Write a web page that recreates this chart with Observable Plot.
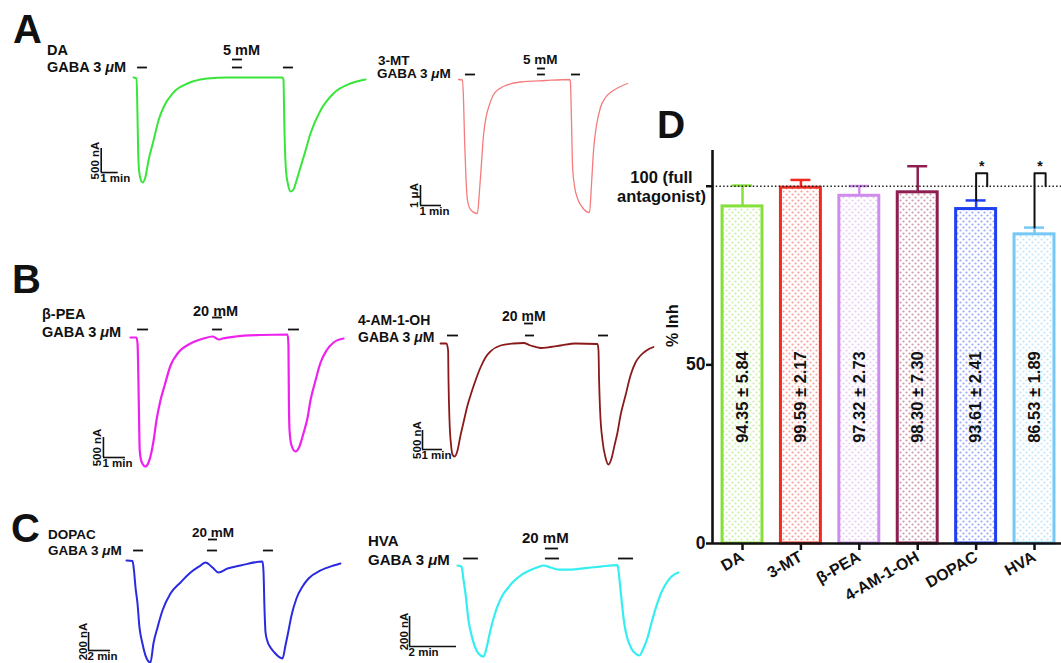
<!DOCTYPE html>
<html><head><meta charset="utf-8">
<script src="https://cdn.jsdelivr.net/npm/d3@7"></script>
<script src="https://cdn.jsdelivr.net/npm/@observablehq/plot@0.6"></script>
<style>
html,body{margin:0;padding:0;background:#fff;overflow:hidden;}
#fig{position:relative;width:1061px;height:663px;font-family:"Liberation Sans",Arial,Helvetica,sans-serif;color:#111;overflow:hidden;}
.lbl{position:absolute;font-weight:bold;line-height:1;white-space:nowrap;}
.big{position:absolute;font-weight:bold;line-height:1;}
.panel{position:absolute;}
</style></head><body><div id="fig"></div>
<script>
const FONT = '"Liberation Sans", Arial, Helvetica, sans-serif';

// ---------- Panels A–C: two-electrode voltage-clamp traces [time (min), current (nA)] ----------
const daTrace = [[0,0],[0.18,-21],[0.24,-896],[0.29,-1729],[0.38,-2062],[0.53,-2187],[0.71,-2062],[0.88,-1729],[1.18,-1312],[1.47,-896],[1.76,-625],[2.35,-312],[3.18,-125],[4.35,-21],[5.53,0],[8.76,0],[8.82,-42],[8.88,-1104],[8.97,-1937],[9.09,-2229],[9.24,-2375],[9.41,-2333],[9.59,-2146],[9.82,-1875],[10.12,-1521],[10.41,-1167],[11.0,-687],[11.76,-333],[12.76,-125],[13.65,-42]];
const mt3Trace = [[0,0],[0.19,-25],[0.24,-1050],[0.29,-3050],[0.36,-5050],[0.43,-6050],[0.57,-6500],[0.90,-6700],[1.0,-5550],[1.07,-4550],[1.19,-2800],[1.33,-1800],[1.48,-1250],[1.67,-750],[2.14,-350],[2.95,-125],[4.14,-50],[5.29,0],[5.33,-150],[5.38,-2050],[5.43,-4300],[5.52,-5300],[5.67,-5950],[5.90,-6400],[6.24,-6650],[6.33,-5300],[6.43,-3550],[6.57,-2300],[6.76,-1400],[7.0,-900],[7.24,-650],[7.62,-400],[8.05,-200]];
const peaTrace = [[0,0],[0.27,0],[0.32,-150],[0.36,-1075],[0.39,-2075],[0.42,-2825],[0.5,-3100],[0.68,-3225],[0.82,-3125],[0.95,-2875],[1.05,-2575],[1.18,-2075],[1.36,-1575],[1.55,-1200],[1.82,-700],[2.14,-400],[2.73,-150],[3.32,-25],[3.73,25],[3.91,-25],[4.0,-50],[4.18,-25],[4.77,25],[5.91,62],[7.14,75],[7.18,-200],[7.2,-1575],[7.23,-2325],[7.32,-2700],[7.5,-2850],[7.68,-2725],[7.86,-2400],[8.05,-2000],[8.18,-1575],[8.41,-1075],[8.64,-625],[8.91,-325],[9.23,-125],[9.68,-25]];
const am4Trace = [[0,0],[0.3,0],[0.38,-184],[0.4,-974],[0.45,-2026],[0.53,-2684],[0.6,-2921],[0.7,-2974],[0.85,-2816],[1.0,-2421],[1.15,-2079],[1.35,-1632],[1.5,-1368],[1.75,-974],[2.0,-632],[2.25,-368],[2.5,-210],[3.0,-53],[3.65,0],[4.15,13],[4.5,-53],[5.0,-118],[5.5,-92],[6.0,-53],[6.75,0],[7.85,-13],[7.9,-184],[7.93,-974],[7.98,-1763],[8.1,-2553],[8.25,-3000],[8.4,-3184],[8.55,-3026],[8.7,-2684],[8.85,-2342],[9.0,-1895],[9.25,-1368],[9.5,-842],[9.75,-500],[10.0,-316],[10.3,-184],[10.65,-92]];
const dopacTrace = [[0,0],[0.55,-6],[0.68,-111],[0.82,-300],[1.0,-478],[1.18,-744],[1.45,-922],[1.73,-1056],[2.18,-1133],[2.45,-922],[2.82,-744],[3.27,-556],[4.0,-367],[4.91,-244],[5.82,-133],[6.73,-56],[7.18,-22],[7.82,-78],[8.36,-133],[9.18,-89],[10.36,-56],[12.36,-11],[12.45,-111],[12.55,-556],[12.64,-800],[12.82,-900],[13.09,-967],[13.45,-1022],[13.82,-1067],[14.18,-1089],[14.45,-944],[14.73,-778],[15.0,-611],[15.45,-422],[16.0,-289],[16.55,-200],[17.64,-111],[18.82,-56],[19.45,-33]];
const hvaTrace = [[0,0],[0.17,-7],[0.26,-100],[0.34,-187],[0.47,-367],[0.6,-467],[0.72,-533],[0.89,-587],[1.11,-607],[1.23,-553],[1.4,-433],[1.57,-333],[1.7,-273],[1.91,-200],[2.13,-153],[2.38,-107],[2.68,-67],[2.98,-40],[3.32,-17],[3.66,0],[3.96,-13],[4.3,-27],[4.81,-27],[5.45,-17],[6.09,-7],[6.81,3],[6.85,-33],[6.94,-167],[7.02,-287],[7.11,-400],[7.23,-487],[7.4,-553],[7.57,-587],[7.74,-600],[7.91,-553],[8.09,-480],[8.26,-380],[8.43,-287],[8.64,-193],[8.85,-127],[9.11,-73],[9.4,-47]];

// application bars [start, end] (min)
const daGaba = [[0.24,0.82],[5.82,6.41],[8.82,9.41]],   daDrug = [[5.82,6.41]];
const mt3Gaba = [[0.33,0.81],[3.76,4.14],[5.38,5.81]], mt3Drug = [[3.76,4.14]];
const peaGaba = [[0.32,0.82],[3.73,4.18],[7.18,7.68]], peaDrug = [[3.73,4.18]];
const am4Gaba = [[0.35,0.9],[4.25,4.7],[7.9,8.4]],     am4Drug = [[4.2,4.65]];
const dopacGaba = [[0.64,1.55],[7.36,8.27],[12.45,13.36]], dopacDrug = [[7.45,8.27]];
const hvaGaba = [[0.26,0.89],[3.74,4.34],[6.85,7.49]],  hvaDrug = [[3.74,4.3]];

const traceNames  = ["DA","3-MT","β-PEA","4-AM-1-OH","DOPAC","HVA"];
const drugConc    = ["5 mM","5 mM","20 mM","20 mM","20 mM","20 mM"];
const traceColors = ["#38e63a","#f47c7c","#ee22ee","#8a1a1a","#2a2ae0","#36eef0"];
const scaleMin    = [1,1,1,1,2,2];          // scale bar time (min)
const scaleCurrent= [500,1000,500,500,200,200]; // scale bar current (nA)

// ---------- Panel D ----------
const compounds = ["DA","3-MT","β-PEA","4-AM-1-OH","DOPAC","HVA"];
const inhMean = [94.35, 99.59, 97.32, 98.30, 93.61, 86.53];
const inhSD   = [5.84, 2.17, 2.73, 7.30, 2.41, 1.89];
const barColors = ["#86e03a","#f02a1e","#cf8cee","#8e1d50","#1f3ff2","#76c8f6"];
const significant = ["DOPAC","HVA"];
const yTicks = [0, 50, 100];
const fullAntagonist = 100;

// ---------- layout ----------
const fig = document.getElementById("fig");
function label(html, left, baseline, size, cls="lbl") {
  const d = document.createElement("div");
  d.className = cls; d.innerHTML = html;
  d.style.fontSize = size + "px";
  d.style.left = left + "px";
  d.style.top = (baseline - 0.8465*size) + "px";
  fig.appendChild(d);
}

const panels = [
  {trace: daTrace, gaba: daGaba, drug: daDrug, L:40, T:40, W:340, H:165, x0:133, y0:77, pxMin:17, pxNA:0.048, sw:2, gOff:10, dOff:18, sb:{t:-1.9,I:-1980},
   lab:{name:[47,55], gaba:[47,72], conc:[223,55], size:14.5}},
  {trace: mt3Trace, gaba: mt3Gaba, drug: mt3Drug, L:370, T:50, W:290, H:180, x0:458, y0:79, pxMin:21, pxNA:0.02, sw:1.3, gOff:5, dOff:11, sb:{t:-1.81,I:-6300},
   lab:{name:[378,65], gaba:[377,78], conc:[523,64], size:13.5}},
  {trace: peaTrace, gaba: peaGaba, drug: peaDrug, L:40, T:300, W:330, H:180, x0:130, y0:337, pxMin:22, pxNA:0.04, sw:2.2, gOff:8, dOff:20, sb:{t:-1.23,I:-3000},
   lab:{name:[42,319], gaba:[42,337], conc:[193,316], size:14.5}},
  {trace: am4Trace, gaba: am4Gaba, drug: am4Drug, L:350, T:300, W:320, H:180, x0:440, y0:343, pxMin:20, pxNA:0.038, sw:1.8, gOff:8, dOff:20, sb:{t:-0.9,I:-2790},
   lab:{name:[358,325], gaba:[358,342], conc:[502,321], size:14}},
  {trace: dopacTrace, gaba: dopacGaba, drug: dopacDrug, L:40, T:515, W:320, H:148, x0:126, y0:560, pxMin:11, pxNA:0.09, sw:2, gOff:10, dOff:21, sb:{t:-3.45,I:-1000},
   lab:{name:[48,539], gaba:[48,555], conc:[192,537], size:13.5}},
  {trace: hvaTrace, gaba: hvaGaba, drug: hvaDrug, L:360, T:515, W:330, H:148, x0:457, y0:565, pxMin:23.5, pxNA:0.15, sw:2.2, gOff:7, dOff:17, sb:{t:-2.04,I:-540},
   lab:{name:[368,546], gaba:[368,565], conc:[522,543], size:15}}
];

panels.forEach((p, k) => {
  const xd = [(p.L - p.x0)/p.pxMin, (p.L + p.W - p.x0)/p.pxMin];
  const yd = [(p.y0 - (p.T + p.H))/p.pxNA, (p.y0 - p.T)/p.pxNA];
  const dt = scaleMin[k], dI = scaleCurrent[k];
  const sb = [{t: p.sb.t, I: p.sb.I, dt, dI,
               iLab: dI >= 1000 ? `${dI/1000} μA` : `${dI} nA`, tLab: `${dt} min`}];
  const chart = Plot.plot({
    width: p.W, height: p.H, margin: 0,
    x: {domain: xd, axis: null}, y: {domain: yd, axis: null},
    style: {fontFamily: FONT, background: "transparent", overflow: "visible"},
    marks: [
      Plot.line(p.trace, {x: d => d[0], y: d => d[1], stroke: traceColors[k], strokeWidth: p.sw, curve: "monotone-x"}),
      Plot.ruleY(p.gaba, {x1: d => d[0], x2: d => d[1], y: 0, dy: -p.gOff, stroke: "#111", strokeWidth: 1.8}),
      Plot.ruleY(p.drug, {x1: d => d[0], x2: d => d[1], y: 0, dy: -p.dOff, stroke: "#111", strokeWidth: 1.8}),
      Plot.ruleX(sb, {x: "t", y1: "I", y2: d => d.I + d.dI, stroke: "#111", strokeWidth: 1.6}),
      Plot.ruleY(sb, {y: "I", x1: "t", x2: d => d.t + d.dt, stroke: "#111", strokeWidth: 1.6}),
      Plot.text(sb, {x: "t", y: d => d.I + d.dI/2, text: "iLab", rotate: -90, lineAnchor: "bottom", dx: -2, fontSize: 11.5, fontWeight: "bold", fill: "#111"}),
      Plot.text(sb, {x: "t", y: "I", text: "tLab", textAnchor: "start", lineAnchor: "top", dy: 1, dx: -1, fontSize: 11.5, fontWeight: "bold", fill: "#111"})
    ]
  });
  chart.classList.add("panel");
  chart.style.left = p.L + "px"; chart.style.top = p.T + "px";
  fig.appendChild(chart);
  label(traceNames[k], p.lab.name[0], p.lab.name[1], p.lab.size);
  label("GABA 3 <i>μ</i>M", p.lab.gaba[0], p.lab.gaba[1], p.lab.size);
  label(drugConc[k], p.lab.conc[0], p.lab.conc[1], p.lab.size);
});

label("A", 13, 43, 40, "big");
label("B", 12, 293, 40, "big");
label("C", 11, 542, 40, "big");
label("D", 657, 138, 39, "big");

// ---------- Panel D bar chart ----------
const halfW = 0.342, capW = 0.171, bracketW = 0.19, bracketTop = 103.6, valueLabelY = 41;
const xDomain = [-0.514, 5.462];
const barData = compounds.map((c, i) => ({c, i, mean: inhMean[i], sd: inhSD[i], color: barColors[i], pat: `url(#pat${i})`}));
const sigData = barData.filter(d => significant.includes(d.c));
const bracketPts = sigData.flatMap(d => [
  {c: d.c, x: d.i, y: d.mean + d.sd},
  {c: d.c, x: d.i, y: bracketTop},
  {c: d.c, x: d.i + bracketW, y: bracketTop},
  {c: d.c, x: d.i + bracketW, y: fullAntagonist}
]);

const bar = Plot.plot({
  width: 441, height: 520, marginLeft: 92, marginTop: 50, marginBottom: 77, marginRight: 0,
  x: {type: "linear", domain: xDomain, axis: null},
  y: {domain: [0, 110], axis: null},
  color: {type: "identity"},
  style: {fontFamily: FONT, background: "transparent", overflow: "visible", color: "#111"},
  marks: [
    Plot.ruleX(barData, {x: "i", y1: "mean", y2: d => d.mean + d.sd, stroke: "color", strokeWidth: 2.5}),
    Plot.ruleY(barData, {y: d => d.mean + d.sd, x1: d => d.i - capW, x2: d => d.i + capW, stroke: "color", strokeWidth: 2.5}),
    Plot.rect(barData, {x1: d => d.i - halfW, x2: d => d.i + halfW, y1: 0, y2: "mean", fill: "pat", stroke: "color", strokeWidth: 3}),
    Plot.ruleY([fullAntagonist], {stroke: "#222", strokeWidth: 1.3, strokeDasharray: "1.5 2.2"}),
    Plot.line(bracketPts, {x: "x", y: "y", z: "c", stroke: "#111", strokeWidth: 2}),
    Plot.text(sigData, {x: d => d.i + bracketW/2, y: bracketTop, text: () => "*", dy: -7, fontSize: 14, fontWeight: "bold", fill: "#111"}),
    Plot.text(barData, {x: "i", y: valueLabelY, text: d => `${d.mean.toFixed(2)} ± ${d.sd.toFixed(2)}`, rotate: -90, fontSize: 16.5, fontWeight: "bold", fill: "#111"}),
    Plot.ruleY([0], {stroke: "#111", strokeWidth: 2.6}),
    Plot.ruleX([xDomain[0]], {stroke: "#111", strokeWidth: 2.6}),
    Plot.axisY({ticks: yTicks, tickFormat: d => d === fullAntagonist ? "" : d, tickSize: 6, tickPadding: 1, fontSize: 17.5, fontWeight: "bold", strokeWidth: 2.5, label: null}),
    Plot.text([`${fullAntagonist} (full\nantagonist)`], {frameAnchor: "left", y: fullAntagonist, dx: -51, textAnchor: "middle", fontSize: 16.5, fontWeight: "bold", lineHeight: 1.2, fill: "#111"}),
    Plot.text(["% Inh"], {frameAnchor: "left", y: 55, dx: -40, rotate: -90, fontSize: 16, fontWeight: "bold", fill: "#111"}),
    Plot.axisX({ticks: d3.range(compounds.length), tickFormat: i => compounds[i], tickRotate: -30, tickSize: 7, tickPadding: 5, fontSize: 16, fontWeight: "bold", strokeWidth: 2.5, label: null})
  ]
});
// dotted fill patterns
const defs = d3.select(bar).insert("defs", ":first-child");
barColors.forEach((c, i) => {
  const pt = defs.append("pattern").attr("id", `pat${i}`).attr("patternUnits", "userSpaceOnUse").attr("width", 6).attr("height", 6);
  pt.append("rect").attr("width", 6).attr("height", 6).attr("fill", "#fff");
  pt.append("circle").attr("cx", 1.5).attr("cy", 1.5).attr("r", 1.1).attr("fill", c).attr("fill-opacity", 0.45);
  pt.append("circle").attr("cx", 4.5).attr("cy", 4.5).attr("r", 1.1).attr("fill", c).attr("fill-opacity", 0.45);
});
bar.classList.add("panel");
bar.style.left = "620px"; bar.style.top = "100px";
fig.appendChild(bar);
</script>
</body></html>
